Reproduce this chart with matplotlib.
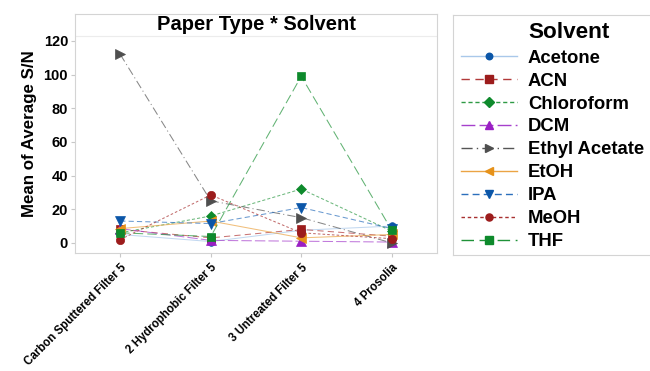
import matplotlib
matplotlib.use("Agg")
import matplotlib.pyplot as plt
from matplotlib.lines import Line2D
from matplotlib.colors import to_rgba

plt.rcParams['font.family'] = ['Liberation Sans', 'DejaVu Sans']
plt.rcParams['font.weight'] = 'bold'

paper_types = ["Carbon Sputtered Filter 5", "2 Hydrophobic Filter 5",
               "3 Untreated Filter 5", "4 Prosolia"]
solvents = ["Acetone", "ACN", "Chloroform", "DCM", "Ethyl Acetate",
            "EtOH", "IPA", "MeOH", "THF"]

acetone = [5, 0.8, 7.5, 10]
acn = [8, 3, 8, 4]
chloroform = [6, 16, 32, 7]
dcm = [8.5, 1.5, 1, 0.5]
ethyl_acetate = [112, 25, 15, 0]
etoh = [8.5, 13, 3, 5]
ipa = [13, 11.5, 21, 8.5]
meoh = [2, 28.5, 6, 2.5]
thf = [6, 3.8, 99, 7.5]

series = [acetone, acn, chloroform, dcm, ethyl_acetate, etoh, ipa, meoh, thf]

# marker colour, line colour, marker, dash pattern
styles = [
    ("#0b56a8", "#a9c8ea", "o", (None, None)),
    ("#9c1c1c", "#b23a3a", "s", (6, 4)),
    ("#0e8a2c", "#2e9a45", "D", (3, 2)),
    ("#9a1fc4", "#a640cc", "^", (10, 3)),
    ("#4f4f4f", "#555555", ">", (8, 3, 1, 3)),
    ("#e6921a", "#eba444", "<", (None, None)),
    ("#0b56a8", "#2b6fbc", "v", (5, 3)),
    ("#9c1c1c", "#a83030", "o", (2.5, 2)),
    ("#0e8a2c", "#1f9238", "s", (9, 4)),
]
msizes = [5.5, 6, 5.5, 6.5, 7, 6.5, 7, 6, 6]

fig = plt.figure(figsize=(6.5, 3.71), dpi=100)
ax = fig.add_axes([75/650, 1 - 253/371, (437-75)/650, (253-14)/371])

x = list(range(len(paper_types)))
handles = []
for vals, (mc, lc, mk, dash), ms, name in zip(series, styles, msizes, solvents):
    ln, = ax.plot(x, vals, color=to_rgba(lc, 0.7), lw=0.75,
                  marker=mk, markersize=ms, markerfacecolor=mc,
                  markeredgecolor=mc, markeredgewidth=0.5, zorder=3)
    if dash[0] is not None:
        ln.set_dashes(dash)
    h = Line2D([0], [0], color=lc, lw=1.0, marker=mk,
               markersize=ms * 0.85, markerfacecolor=mc, markeredgecolor=mc)
    if dash[0] is not None:
        h.set_dashes(dash)
    handles.append(h)

ax.set_xlim(-0.5, 3.5)
ax.set_ylim(-6, 136)
ax.set_yticks([0, 20, 40, 60, 80, 100, 120])
ax.set_xticks(x)
ax.set_xticklabels(paper_types, rotation=45, ha='right',
                   rotation_mode='anchor', fontsize=8.3, fontweight='bold')
ax.tick_params(axis='y', labelsize=10.5, length=3, color='#c8c8c8', pad=2)
ax.tick_params(axis='x', length=3, color='#c8c8c8', pad=3)
for t in ax.get_yticklabels():
    t.set_fontweight('bold')
for sp in ax.spines.values():
    sp.set_color('#d4d4d4')
    sp.set_linewidth(0.8)

ax.set_ylabel("Mean of Average S/N", fontsize=12.2, fontweight='bold', labelpad=5)

# header band with panel title
ax.axhline(123, color='#ececec', lw=0.8, zorder=1)
ax.text(0.5, 1 - 11/239, "Paper Type * Solvent", transform=ax.transAxes,
        ha='center', va='center', fontsize=14.5, fontweight='bold')

# legend panel
lax = fig.add_axes([453/650, 1 - 255/371, (660-453)/650, (255-15)/371])
lax.set_xticks([])
lax.set_yticks([])
for sp in lax.spines.values():
    sp.set_color('#d4d4d4')
    sp.set_linewidth(0.8)
lax.text(75/207, 1 - 17/240, "Solvent", transform=lax.transAxes,
         ha='left', va='center', fontsize=16.2, fontweight='bold')
lax.legend(handles, solvents, loc='upper left', bbox_to_anchor=(0.0, 0.89),
           frameon=False, handlelength=3.0, handletextpad=0.6,
           labelspacing=0.32, borderaxespad=0.05,
           prop={'weight': 'bold', 'size': 13.3})

fig.savefig("out.png", dpi=100)
